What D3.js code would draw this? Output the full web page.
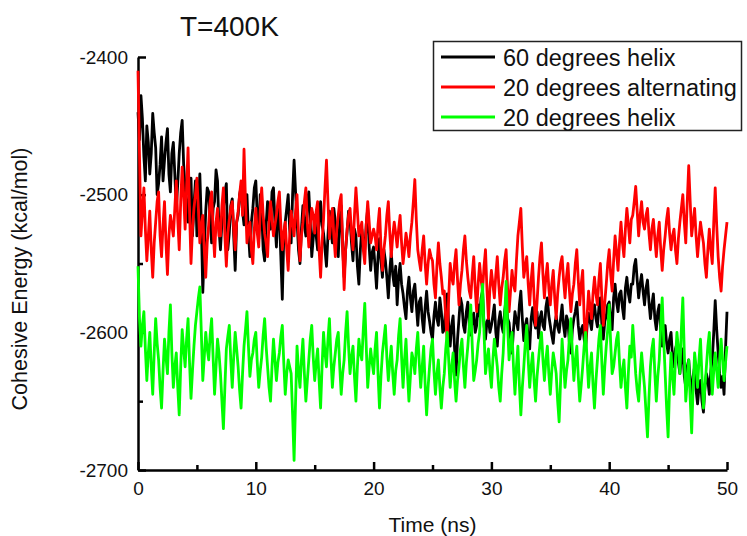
<!DOCTYPE html>
<html>
<head>
<meta charset="utf-8">
<script src="https://cdn.jsdelivr.net/npm/d3@7"></script>
<style>
  html, body { margin: 0; padding: 0; background: #fff; }
  svg text { font-family: "Liberation Sans", Arial, sans-serif; fill: #111; }
</style>
</head>
<body>
<div id="chart"></div>
<script>
var
  TIME_STEP = 0.25,

  // 60 degrees helix, values at t = 0, 0.25, 0.5 ... 50 ns
  helix60 = [
    -2440, -2428, -2472, -2450,  -2485, -2441, -2466, -2492,  -2458, -2475, -2452, -2498,
    -2462, -2510, -2470, -2446,  -2495, -2520, -2488, -2508,  -2530, -2485, -2571, -2512,
    -2498, -2535, -2505, -2490,  -2540, -2510, -2492, -2528,  -2503, -2555, -2515, -2494,
    -2522, -2500, -2545, -2510,  -2490, -2532, -2512, -2548,  -2505, -2525, -2495, -2538,
    -2515, -2576, -2520, -2500,  -2535, -2475, -2518, -2550,  -2508, -2530, -2498, -2545,
    -2515, -2540, -2505, -2528,  -2552, -2512, -2535, -2520,  -2545, -2508, -2560, -2527,
    -2518, -2548, -2530, -2565,  -2525, -2540, -2510, -2555,  -2538, -2568, -2532, -2560,
    -2548, -2575, -2542, -2566,  -2580, -2550, -2572, -2590,  -2560, -2585, -2565, -2595,
    -2575, -2600, -2570, -2592,  -2605, -2578, -2595, -2585,  -2598, -2572, -2610, -2588,
    -2631, -2590, -2580, -2600,  -2578, -2602, -2586, -2595,  -2588, -2570, -2605, -2590,
    -2595, -2580, -2610, -2585,  -2600, -2575, -2593, -2615,  -2585, -2598, -2570, -2606,
    -2590, -2612, -2582, -2597,  -2604, -2585, -2598, -2575,  -2595, -2608, -2588, -2600,
    -2580, -2603, -2592, -2615,  -2590, -2578, -2605, -2595,  -2612, -2586, -2598, -2580,
    -2596, -2575, -2605, -2588,  -2578, -2598, -2565, -2585,  -2570, -2590, -2560, -2578,
    -2565, -2547, -2575, -2558,  -2580, -2562, -2590, -2572,  -2598, -2580, -2610, -2595,
    -2615, -2600, -2625, -2608,  -2630, -2612, -2640, -2620,  -2645, -2625, -2652, -2635,
    -2658, -2630, -2645, -2620,  -2577, -2615, -2640, -2645,  -2585
  ],
  // 60 degrees helix, values at t = 0.125, 0.375 ... 49.875 ns
  helix60Mid = [
    -2460, -2445, -2490, -2462,  -2470, -2455, -2500, -2478,  -2490, -2462, -2485, -2470,
    -2485, -2492, -2455, -2478,  -2505, -2498, -2530, -2490,  -2505, -2520, -2540, -2495,
    -2518, -2510, -2482, -2525,  -2520, -2498, -2540, -2508,  -2530, -2520, -2500, -2512,
    -2508, -2528, -2520, -2495,  -2515, -2500, -2540, -2522,  -2518, -2498, -2520, -2510,
    -2545, -2530, -2510, -2525,  -2500, -2498, -2540, -2525,  -2522, -2505, -2520, -2532,
    -2530, -2518, -2522, -2540,  -2530, -2525, -2510, -2538,  -2520, -2538, -2540, -2512,
    -2535, -2525, -2552, -2540,  -2535, -2522, -2538, -2542,  -2552, -2545, -2548, -2540,
    -2560, -2555, -2558, -2552,  -2560, -2565, -2582, -2570,  -2575, -2570, -2580, -2578,
    -2590, -2582, -2585, -2600,  -2588, -2590, -2575, -2600,  -2580, -2595, -2595, -2612,
    -2605, -2575, -2595, -2585,  -2595, -2590, -2600, -2580,  -2575, -2595, -2592, -2600,
    -2588, -2600, -2592, -2595,  -2585, -2590, -2605, -2598,  -2592, -2580, -2590, -2595,
    -2605, -2590, -2592, -2585,  -2590, -2595, -2582, -2588,  -2602, -2595, -2596, -2590,
    -2595, -2588, -2608, -2598,  -2585, -2595, -2598, -2605,  -2595, -2592, -2585, -2590,
    -2582, -2594, -2592, -2580,  -2590, -2575, -2578, -2572,  -2582, -2568, -2572, -2565,
    -2552, -2562, -2565, -2570,  -2568, -2578, -2580, -2590,  -2585, -2600, -2598, -2608,
    -2605, -2618, -2612, -2622,  -2618, -2632, -2625, -2635,  -2632, -2642, -2640, -2650,
    -2640, -2635, -2628, -2600,  -2598, -2630, -2632, -2612
  ],

  // 20 degrees alternating
  alternating20 = [
    -2410, -2530, -2495, -2548,  -2512, -2560, -2520, -2498,  -2545, -2505, -2558, -2515,
    -2530, -2490, -2540, -2480,  -2525, -2466, -2550, -2510,  -2488, -2535, -2515, -2560,
    -2522, -2498, -2545, -2510,  -2530, -2495, -2552, -2518,  -2505, -2540, -2512, -2490,
    -2467, -2535, -2520, -2550,  -2510, -2538, -2495, -2528,  -2545, -2505, -2530, -2515,
    -2498, -2540, -2520, -2555,  -2512, -2530, -2500, -2548,  -2520, -2495, -2538, -2510,
    -2528, -2505, -2560, -2518,  -2475, -2532, -2510, -2545,  -2515, -2500, -2569, -2525,
    -2510, -2540, -2495, -2530,  -2520, -2550, -2505, -2535,  -2525, -2540, -2510, -2555,
    -2530, -2505, -2545, -2520,  -2538, -2515, -2550, -2528,  -2545, -2520, -2489, -2540,
    -2555, -2530, -2565, -2540,  -2548, -2575, -2535, -2560,  -2570, -2606, -2550, -2565,
    -2540, -2580, -2555, -2530,  -2560, -2575, -2545, -2585,  -2550, -2570, -2540, -2590,
    -2555, -2575, -2545, -2580,  -2560, -2540, -2585, -2555,  -2570, -2530, -2510, -2560,
    -2545, -2580, -2550, -2595,  -2560, -2535, -2575, -2550,  -2580, -2555, -2590, -2560,
    -2545, -2575, -2550, -2585,  -2565, -2540, -2580, -2555,  -2609, -2570, -2590, -2560,
    -2580, -2550, -2595, -2565,  -2540, -2570, -2530, -2555,  -2520, -2545, -2510, -2535,
    -2515, -2494, -2530, -2505,  -2525, -2510, -2540, -2518,  -2545, -2520, -2555, -2530,
    -2510, -2540, -2525, -2550,  -2520, -2500, -2535, -2479,  -2530, -2510, -2545, -2520,
    -2535, -2560, -2525, -2550,  -2495, -2545, -2570, -2540,  -2520
  ],
  alternating20Mid = [
    -2470, -2512, -2525, -2530,  -2540, -2535, -2505, -2530,  -2522, -2535, -2530, -2522,
    -2510, -2518, -2505, -2500,  -2495, -2512, -2525, -2500,  -2510, -2522, -2540, -2535,
    -2505, -2525, -2520, -2530,  -2508, -2530, -2528, -2510,  -2525, -2520, -2500, -2515,
    -2505, -2525, -2540, -2525,  -2528, -2512, -2515, -2535,  -2520, -2518, -2522, -2505,
    -2522, -2528, -2540, -2530,  -2520, -2512, -2528, -2530,  -2505, -2520, -2522, -2515,
    -2512, -2540, -2535, -2495,  -2505, -2520, -2530, -2525,  -2505, -2540, -2540, -2515,
    -2528, -2515, -2512, -2525,  -2540, -2522, -2520, -2530,  -2530, -2522, -2538, -2540,
    -2515, -2528, -2530, -2528,  -2525, -2535, -2540, -2535,  -2530, -2505, -2518, -2548,
    -2540, -2550, -2550, -2545,  -2565, -2552, -2550, -2572,  -2590, -2575, -2560, -2550,
    -2562, -2565, -2540, -2548,  -2570, -2558, -2568, -2565,  -2562, -2552, -2570, -2568,
    -2565, -2558, -2565, -2568,  -2548, -2568, -2570, -2565,  -2548, -2520, -2538, -2552,
    -2565, -2562, -2575, -2578,  -2545, -2558, -2560, -2568,  -2565, -2575, -2572, -2550,
    -2562, -2560, -2570, -2572,  -2550, -2562, -2565, -2590,  -2588, -2582, -2572, -2572,
    -2562, -2575, -2578, -2550,  -2558, -2548, -2542, -2535,  -2535, -2525, -2522, -2518,
    -2505, -2512, -2515, -2520,  -2515, -2528, -2525, -2532,  -2530, -2540, -2540, -2518,
    -2528, -2530, -2540, -2532,  -2510, -2520, -2505, -2505,  -2520, -2530, -2532, -2528,
    -2550, -2540, -2540, -2520,  -2522, -2560, -2552, -2530
  ],

  // 20 degrees helix
  helix20 = [
    -2552, -2610, -2585, -2635,  -2600, -2645, -2590, -2620,  -2655, -2605, -2630, -2580,
    -2640, -2615, -2660, -2598,  -2625, -2590, -2648, -2610,  -2585, -2567, -2635, -2600,
    -2620, -2590, -2645, -2605,  -2630, -2670, -2612, -2595,  -2640, -2600, -2625, -2655,
    -2610, -2585, -2632, -2615,  -2600, -2640, -2618, -2590,  -2625, -2650, -2605, -2635,
    -2615, -2595, -2645, -2620,  -2630, -2693, -2610, -2640,  -2605, -2650, -2620, -2595,
    -2635, -2612, -2655, -2600,  -2625, -2590, -2640, -2615,  -2600, -2645, -2620, -2585,
    -2630, -2610, -2650, -2605,  -2620, -2579, -2640, -2612,  -2630, -2600, -2655, -2615,
    -2595, -2635, -2610, -2645,  -2620, -2590, -2640, -2605,  -2650, -2615, -2630, -2600,
    -2640, -2610, -2660, -2625,  -2605, -2645, -2620, -2655,  -2630, -2600, -2640, -2615,
    -2650, -2625, -2605, -2640,  -2610, -2580, -2635, -2620,  -2600, -2565, -2630, -2612,
    -2640, -2605, -2625, -2650,  -2615, -2563, -2620, -2600,  -2645, -2610, -2660, -2625,
    -2595, -2640, -2615, -2650,  -2620, -2600, -2635, -2610,  -2645, -2615, -2630, -2665,
    -2605, -2640, -2620, -2590,  -2635, -2610, -2650, -2625,  -2600, -2640, -2615, -2655,
    -2620, -2595, -2645, -2610,  -2580, -2630, -2615, -2600,  -2640, -2620, -2655, -2610,
    -2595, -2630, -2650, -2615,  -2640, -2676, -2625, -2605,  -2650, -2620, -2575, -2630,
    -2676, -2615, -2645, -2600,  -2630, -2575, -2650, -2620,  -2673, -2615, -2640, -2605,
    -2655, -2625, -2600, -2645,  -2615, -2640, -2605, -2635,  -2610
  ],
  helix20Mid = [
    -2590, -2595, -2612, -2615,  -2625, -2615, -2608, -2640,  -2628, -2618, -2600, -2615,
    -2625, -2640, -2625, -2612,  -2605, -2622, -2628, -2595,  -2575, -2600, -2618, -2612,
    -2602, -2618, -2625, -2615,  -2650, -2640, -2603, -2620,  -2618, -2612, -2642, -2630,
    -2598, -2610, -2620, -2605,  -2622, -2628, -2602, -2610,  -2640, -2625, -2620, -2622,
    -2603, -2622, -2630, -2625,  -2660, -2650, -2628, -2620,  -2630, -2635, -2605, -2618,
    -2622, -2635, -2625, -2615,  -2605, -2618, -2625, -2605,  -2625, -2630, -2600, -2610,
    -2618, -2632, -2625, -2615,  -2598, -2610, -2625, -2622,  -2612, -2630, -2632, -2605,
    -2618, -2622, -2630, -2628,  -2602, -2618, -2620, -2630,  -2632, -2620, -2612, -2622,
    -2625, -2638, -2640, -2612,  -2628, -2630, -2640, -2640,  -2612, -2620, -2625, -2635,
    -2635, -2612, -2625, -2622,  -2595, -2610, -2628, -2608,  -2580, -2600, -2620, -2628,
    -2620, -2615, -2640, -2630,  -2590, -2595, -2608, -2625,  -2625, -2638, -2640, -2608,
    -2620, -2625, -2635, -2632,  -2608, -2620, -2620, -2630,  -2628, -2622, -2650, -2635,
    -2622, -2628, -2603, -2615,  -2620, -2632, -2638, -2610,  -2620, -2625, -2638, -2635,
    -2605, -2622, -2625, -2598,  -2608, -2625, -2605, -2622,  -2628, -2640, -2630, -2618,
    -2612, -2642, -2630, -2628,  -2658, -2648, -2612, -2630,  -2632, -2595, -2605, -2655,
    -2640, -2632, -2620, -2612,  -2598, -2615, -2635, -2648,  -2640, -2625, -2620, -2632,
    -2640, -2610, -2625, -2628,  -2628, -2620, -2620, -2622
  ],

  seriesNames = ["60 degrees helix", "20 degrees alternating", "20 degrees helix"],
  seriesGrid = [helix60, alternating20, helix20],
  seriesMid = [helix60Mid, alternating20Mid, helix20Mid],
  seriesColors = ["#000000", "#ff0000", "#00ff00"],

  xMajorTicks = [0, 10, 20, 30, 40, 50],
  xMinorTicks = [5, 15, 25, 35, 45],
  yMajorTicks = [-2400, -2500, -2600, -2700],
  yMinorTicks = [-2450, -2550, -2650],

  WIDTH = 747,
  HEIGHT = 536,
  LEFT = 138,
  RIGHT = 727,
  TOP = 57,
  BOTTOM = 470;

var svg = d3.select("#chart").append("svg")
  .attr("width", WIDTH)
  .attr("height", HEIGHT);

var x = d3.scaleLinear().domain([0, 50]).range([LEFT, RIGHT]);
var y = d3.scaleLinear().domain([-2700, -2400]).range([BOTTOM, TOP]);

function plainNumber(d){
  return String(d);
}

// merge the 0.25 ns samples and the in-between samples into one time series
function mergeSamples(grid, mid){
  var points = [];
  grid.forEach(function(v, i){
    points.push([i * TIME_STEP, v]);
    if (i < mid.length) points.push([i * TIME_STEP + TIME_STEP / 2, mid[i]]);
  });
  return points;
}

function drawAxes(){
  var xAxis = svg.append("g")
    .attr("transform", "translate(0," + BOTTOM + ")")
    .call(d3.axisBottom(x).tickValues(xMajorTicks).tickFormat(plainNumber)
      .tickSizeInner(-8).tickSizeOuter(0).tickPadding(12));
  xAxis.selectAll("text").style("font-size", "19px");

  svg.append("g")
    .attr("transform", "translate(0," + BOTTOM + ")")
    .call(d3.axisBottom(x).tickValues(xMinorTicks).tickSizeInner(-5).tickSizeOuter(0).tickFormat(""))
    .select(".domain").remove();

  var yAxis = svg.append("g")
    .attr("transform", "translate(" + LEFT + ",0)")
    .call(d3.axisLeft(y).tickValues(yMajorTicks).tickFormat(plainNumber)
      .tickSizeInner(-8).tickSizeOuter(0).tickPadding(10));
  yAxis.selectAll("text").style("font-size", "19px");

  svg.append("g")
    .attr("transform", "translate(" + LEFT + ",0)")
    .call(d3.axisLeft(y).tickValues(yMinorTicks).tickSizeInner(-5).tickSizeOuter(0).tickFormat(""))
    .select(".domain").remove();

  svg.selectAll(".domain, .tick line")
    .attr("stroke", "#000")
    .attr("stroke-width", 2.5);
}

function drawSeries(points, color){
  var line = d3.line()
    .x(function(d){ return x(d[0]); })
    .y(function(d){ return y(d[1]); });

  svg.append("path")
    .datum(points)
    .attr("fill", "none")
    .attr("stroke", color)
    .attr("stroke-width", 2.8)
    .attr("stroke-linejoin", "round")
    .attr("d", line);
}

function drawLegend(){
  var legend = svg.append("g");

  legend.append("rect")
    .attr("x", 433.5).attr("y", 41.5)
    .attr("width", 308).attr("height", 89)
    .attr("fill", "#fff")
    .attr("stroke", "#222")
    .attr("stroke-width", 1.5);

  seriesNames.forEach(function(name, i){
    var rowY = 57 + i * 30;
    legend.append("line")
      .attr("x1", 441).attr("x2", 495)
      .attr("y1", rowY).attr("y2", rowY)
      .attr("stroke", seriesColors[i])
      .attr("stroke-width", 3);
    legend.append("text")
      .attr("x", 503).attr("y", rowY + 8.5)
      .style("font-size", "23.5px")
      .text(name);
  });
}

function drawTitles(){
  svg.append("text")
    .attr("x", 180).attr("y", 36)
    .style("font-size", "28px")
    .text("T=400K");

  svg.append("text")
    .attr("x", (LEFT + RIGHT) / 2).attr("y", 532)
    .attr("text-anchor", "middle")
    .style("font-size", "21px")
    .text("Time (ns)");

  svg.append("text")
    .attr("transform", "translate(27,279) rotate(-90)")
    .attr("text-anchor", "middle")
    .style("font-size", "21.5px")
    .text("Cohesive Energy (kcal/mol)");
}

drawAxes();
seriesGrid.forEach(function(grid, i){
  drawSeries(mergeSamples(grid, seriesMid[i]), seriesColors[i]);
});
drawLegend();
drawTitles();
</script>
</body>
</html>
